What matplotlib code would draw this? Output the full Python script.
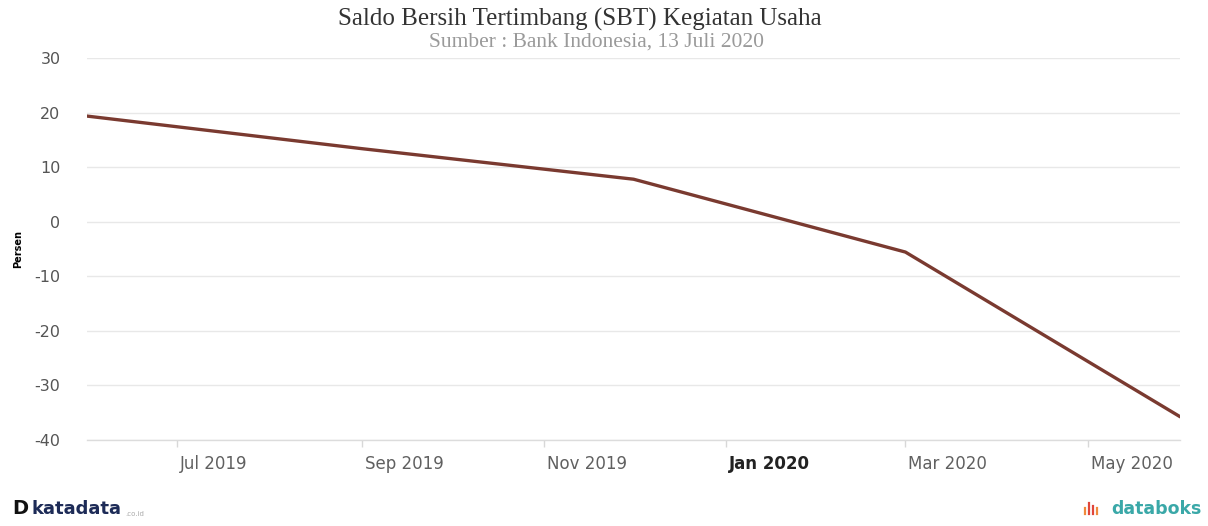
import numpy as np
import matplotlib.pyplot as plt
import matplotlib.dates as mdates
import matplotlib.transforms as mtransforms
from matplotlib.lines import Line2D

# ======== DATA ========
periods = np.array(['2019-06-01', '2019-09-01', '2019-12-01', '2020-03-01', '2020-06-01'],
                   dtype='datetime64[D]')
sbt = [19.36, 13.39, 7.79, -5.56, -35.75]

tick_dates = np.array(['2019-07-01', '2019-09-01', '2019-11-01', '2020-01-01',
                       '2020-03-01', '2020-05-01'], dtype='datetime64[D]')
tick_labels = ['Jul 2019', 'Sep 2019', 'Nov 2019', 'Jan 2020', 'Mar 2020', 'May 2020']
y_ticks = [30, 20, 10, 0, -10, -20, -30, -40]

# ======== FIGURE ========
fig = plt.figure(figsize=(12.08, 5.26), dpi=100)
ax = fig.add_axes([0.072, 0.1635, 0.905, 0.7262])

ax.plot(periods, sbt, color='#7a3a30', lw=2.4, solid_capstyle='round')

ax.set_xlim(periods[0], periods[-1])
ax.set_ylim(-40, 30)
ax.set_yticks(y_ticks)
ax.set_yticklabels([str(v) for v in y_ticks])
ax.grid(axis='y', color='#e8e8e8', lw=1)
ax.set_axisbelow(True)

for s in ['top', 'right', 'left']:
    ax.spines[s].set_visible(False)
ax.spines['bottom'].set_color('#dcdcdc')
ax.spines['bottom'].set_linewidth(1)

ax.tick_params(axis='y', length=0, pad=19, labelsize=11.5, labelcolor='#555555')
ax.tick_params(axis='x', length=5, width=1, color='#d8d8d8', pad=6,
               labelsize=12, labelcolor='#606060')

ax.set_xticks(mdates.date2num(tick_dates))
ax.set_xticklabels(tick_labels)
shift = mtransforms.ScaledTranslation(3 / 100, 0, fig.dpi_scale_trans)
for lbl in ax.get_xticklabels():
    lbl.set_ha('left')
    lbl.set_transform(lbl.get_transform() + shift)
    if lbl.get_text() == 'Jan 2020':
        lbl.set_fontweight('bold')
        lbl.set_color('#222222')

ax.set_ylabel('Persen', fontsize=7, fontweight='bold')
ax.yaxis.set_label_coords(-0.058, 0.5)

# ======== TITLES ========
fig.text(0.48, 0.963, 'Saldo Bersih Tertimbang (SBT) Kegiatan Usaha',
         ha='center', va='center', family='Liberation Serif', fontsize=18, color='#333333')
fig.text(0.494, 0.920, 'Sumber : Bank Indonesia, 13 Juli 2020',
         ha='center', va='center', family='Liberation Serif', fontsize=15.5, color='#9a9a9a')

# ======== LOGOS ========
fig.text(0.010, 0.015, 'D', ha='left', va='bottom', fontsize=14, fontweight='bold', color='#111111')
fig.text(0.026, 0.015, 'katadata', ha='left', va='bottom', fontsize=13, fontweight='bold',
         color='#1d2b57')
fig.text(0.104, 0.017, '.co.id', ha='left', va='bottom', fontsize=5, color='#aaaaaa')

fig.text(0.995, 0.015, 'databoks', ha='right', va='bottom', fontsize=12.5, fontweight='bold',
         color='#3aa8a8')
for dx, h, c in [(0, 0.012, '#f08a3c'), (0.0035, 0.022, '#e0463a'),
                 (0.007, 0.016, '#e0463a'), (0.0105, 0.012, '#f08a3c')]:
    fig.add_artist(Line2D([0.898 + dx, 0.898 + dx], [0.022, 0.022 + h],
                          transform=fig.transFigure, color=c, lw=1.6))

fig.savefig('out.png', dpi=100, facecolor='white')
